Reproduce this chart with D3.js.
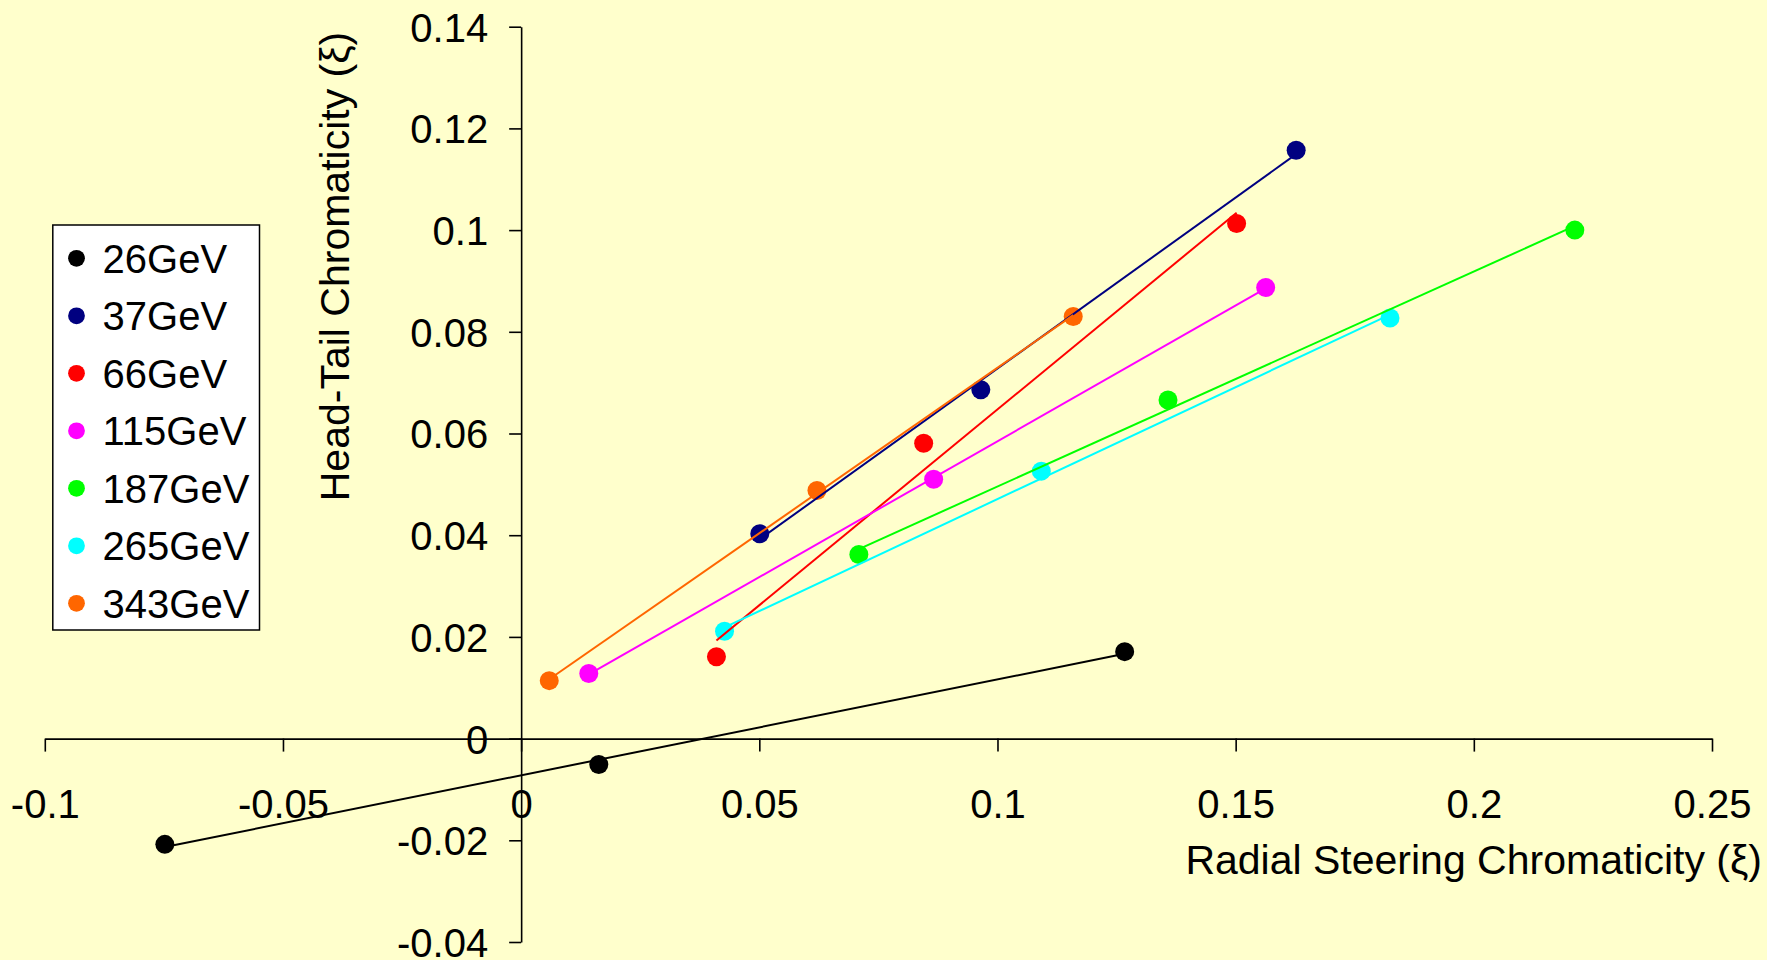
<!DOCTYPE html>
<html>
<head>
<meta charset="utf-8">
<script src="https://cdn.jsdelivr.net/npm/d3@7"></script>
<style>
  html, body { margin: 0; padding: 0; background: #FFFFCC; }
  svg { display: block; }
  text { font-family: "Liberation Sans", Arial, sans-serif; fill: #000; }
</style>
</head>
<body>
<svg id="chart" width="1767" height="960"></svg>
<script>
// ---- Data ----
const seriesNames = ["26GeV", "37GeV", "66GeV", "115GeV", "187GeV", "265GeV", "343GeV"];
const seriesColors = ["#000000", "#000080", "#FF0000", "#FF00FF", "#00FF00", "#00FFFF", "#FF6600"];
// Radial steering chromaticity (x) and head-tail chromaticity (y) for each series
const x26 = [-0.0748, 0.0163, 0.1267];
const y26 = [-0.0208, -0.0051, 0.0171];
const x37 = [0.0501, 0.0965, 0.1627];
const y37 = [0.0403, 0.0686, 0.1157];
const x66 = [0.0410, 0.0845, 0.1502];
const y66 = [0.0161, 0.0581, 0.1013];
const x115 = [0.0142, 0.0866, 0.1563];
const y115 = [0.0128, 0.0510, 0.0887];
const x187 = [0.0709, 0.1358, 0.2212];
const y187 = [0.0362, 0.0666, 0.1000];
const x265 = [0.0427, 0.1092, 0.1824];
const y265 = [0.0211, 0.0526, 0.0827];
const x343 = [0.0059, 0.0621, 0.1159];
const y343 = [0.0114, 0.0488, 0.0830];
const xTicks = [-0.1, -0.05, 0, 0.05, 0.1, 0.15, 0.2, 0.25];
const yTicks = [-0.04, -0.02, 0, 0.02, 0.04, 0.06, 0.08, 0.1, 0.12, 0.14];
const xTitle = "Radial Steering Chromaticity (\u03BE)";
const yTitle = "Head-Tail Chromaticity (\u03BE)";

const xsAll = [x26, x37, x66, x115, x187, x265, x343];
const ysAll = [y26, y37, y66, y115, y187, y265, y343];
const series = seriesNames.map((name, i) => ({
  name, color: seriesColors[i],
  points: xsAll[i].map((x, j) => ({ x, y: ysAll[i][j] }))
}));

// ---- Layout ----
const svg = d3.select("#chart");
svg.append("rect").attr("width", 1767).attr("height", 960).attr("fill", "#FFFFCC");

const x = d3.scaleLinear().domain([-0.1, 0.25]).range([44.8, 1712]);
const y = d3.scaleLinear().domain([-0.04, 0.14]).range([942, 26.7]);
const fmt = d => String(+d.toFixed(2));
const FS = 40;

// X axis (at y = 0)
const gx = svg.append("g").attr("transform", `translate(0,${y(0)})`)
  .call(d3.axisBottom(x).tickValues(xTicks).tickFormat(fmt).tickSize(13).tickSizeOuter(0));
gx.select(".domain").attr("stroke", "#000").attr("stroke-width", 1.6);
gx.selectAll(".tick line").attr("stroke", "#000").attr("stroke-width", 1.6);
gx.selectAll(".tick text").attr("y", 79).attr("dy", 0).style("font-size", FS + "px")
  .style("font-family", "'Liberation Sans', Arial, sans-serif").attr("fill", "#000");

// Y axis (at x = 0)
const gy = svg.append("g").attr("transform", `translate(${x(0)},0)`)
  .call(d3.axisLeft(y).tickValues(yTicks).tickFormat(fmt).tickSize(12).tickSizeOuter(0));
gy.select(".domain").attr("stroke", "#000").attr("stroke-width", 1.6);
gy.selectAll(".tick line").attr("stroke", "#000").attr("stroke-width", 1.6);
gy.selectAll(".tick text").attr("x", -33).attr("dy", "0.36em").style("font-size", FS + "px")
  .style("font-family", "'Liberation Sans', Arial, sans-serif").attr("fill", "#000");

// Axis titles
svg.append("text").attr("x", 1762).attr("y", 874).attr("text-anchor", "end")
  .style("font-size", "41px").text(xTitle);
svg.append("text").attr("transform", "translate(349,266.5) rotate(-90)")
  .attr("text-anchor", "middle").style("font-size", "41px").text(yTitle);

// ---- Markers ----
const plot = svg.append("g");
series.forEach(s => {
  plot.selectAll(null).data(s.points).enter().append("circle")
    .attr("cx", d => x(d.x)).attr("cy", d => y(d.y)).attr("r", 9.5).attr("fill", s.color);
});

// ---- Linear trend lines (least squares over each series) ----
series.forEach(s => {
  const mx = d3.mean(s.points, d => d.x), my = d3.mean(s.points, d => d.y);
  const sxy = d3.sum(s.points, d => (d.x - mx) * (d.y - my));
  const sxx = d3.sum(s.points, d => (d.x - mx) * (d.x - mx));
  const slope = sxy / sxx, icpt = my - slope * mx;
  const [x0, x1] = d3.extent(s.points, d => d.x);
  const ends = [{ x: x0, y: icpt + slope * x0 }, { x: x1, y: icpt + slope * x1 }];
  plot.append("path").datum(ends)
    .attr("d", d3.line().x(d => x(d.x)).y(d => y(d.y)))
    .attr("stroke", s.color).attr("stroke-width", 2).attr("fill", "none");
});

// ---- Legend ----
const lg = svg.append("g");
lg.append("rect").attr("x", 52.8).attr("y", 225).attr("width", 206.7).attr("height", 405)
  .attr("fill", "#FFFFFF").attr("stroke", "#000").attr("stroke-width", 1.5);
const ly = d3.scaleLinear().domain([0, 6]).range([258.3, 603.3]);
const items = lg.selectAll("g.item").data(series).enter().append("g")
  .attr("transform", (d, i) => `translate(0,${ly(i)})`);
items.append("circle").attr("cx", 76.5).attr("cy", 0).attr("r", 8.4).attr("fill", d => d.color);
items.append("text").attr("x", 102.6).attr("y", 0).attr("dy", "0.36em")
  .style("font-size", FS + "px").text(d => d.name);
</script>
</body>
</html>
